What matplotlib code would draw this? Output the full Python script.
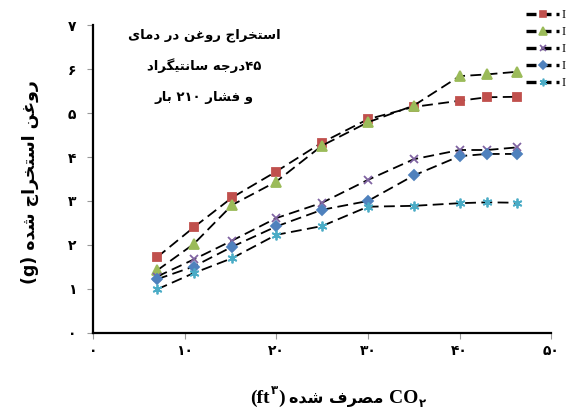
import re
import matplotlib
matplotlib.use("Agg")
import matplotlib.pyplot as plt
from matplotlib.lines import Line2D

# CO2 used (ft^3) and extracted oil (g) for five runs
co2_used = [7, 11, 15.2, 20, 25, 30, 35, 40, 43, 46.3]
oil_red = [1.72, 2.40, 3.08, 3.67, 4.33, 4.86, 5.14, 5.28, 5.36, 5.37]
oil_green = [1.42, 2.02, 2.91, 3.44, 4.26, 4.79, 5.17, 5.84, 5.88, 5.94]
oil_purple = [1.28, 1.67, 2.10, 2.61, 2.96, 3.48, 3.95, 4.16, 4.16, 4.22]
oil_blue = [1.22, 1.51, 1.96, 2.42, 2.80, 3.00, 3.58, 4.02, 4.07, 4.07]
oil_cyan = [0.99, 1.36, 1.70, 2.23, 2.43, 2.87, 2.89, 2.95, 2.97, 2.96]

x_ticks = [0, 10, 20, 30, 40, 50]
x_tick_labels = ["۰", "۱۰", "۲۰", "۳۰", "۴۰", "۵۰"]
y_ticks = [0, 1, 2, 3, 4, 5, 6, 7]
y_tick_labels = ["۰", "۱", "۲", "۳", "۴", "۵", "۶", "۷"]
legend_labels = ["I", "I", "I", "I", "I"]

title_lines = ["استخراج روغن در دمای", "۴۵درجه سانتیگراد", "و فشار ۲۱۰ بار"]
y_label = "روغن استخراج شده (g)"
x_label_fa = "مصرف شده"

# isolated, final, initial, medial
FORMS = {
    "ا": ("\uFE8D", "\uFE8E", None, None),
    "ب": ("\uFE8F", "\uFE90", "\uFE91", "\uFE92"),
    "ت": ("\uFE95", "\uFE96", "\uFE97", "\uFE98"),
    "ج": ("\uFE9D", "\uFE9E", "\uFE9F", "\uFEA0"),
    "خ": ("\uFEA5", "\uFEA6", "\uFEA7", "\uFEA8"),
    "د": ("\uFEA9", "\uFEAA", None, None),
    "ر": ("\uFEAD", "\uFEAE", None, None),
    "س": ("\uFEB1", "\uFEB2", "\uFEB3", "\uFEB4"),
    "ش": ("\uFEB5", "\uFEB6", "\uFEB7", "\uFEB8"),
    "ص": ("\uFEB9", "\uFEBA", "\uFEBB", "\uFEBC"),
    "غ": ("\uFECD", "\uFECE", "\uFECF", "\uFED0"),
    "ف": ("\uFED1", "\uFED2", "\uFED3", "\uFED4"),
    "م": ("\uFEE1", "\uFEE2", "\uFEE3", "\uFEE4"),
    "ن": ("\uFEE5", "\uFEE6", "\uFEE7", "\uFEE8"),
    "ه": ("\uFEE9", "\uFEEA", "\uFEEB", "\uFEEC"),
    "و": ("\uFEED", "\uFEEE", None, None),
    "ی": ("\uFBFC", "\uFBFD", "\uFBFE", "\uFBFF"),
    "گ": ("\uFB92", "\uFB93", "\uFB94", "\uFB95"),
}
MIRROR = {"(": ")", ")": "("}


def shape(text):
    # join the letters, then put the string in left-to-right drawing order
    out = []
    for i, ch in enumerate(text):
        if ch not in FORMS:
            out.append(ch)
            continue
        prev = text[i - 1] if i > 0 else ""
        nxt = text[i + 1] if i + 1 < len(text) else ""
        join_prev = prev in FORMS and FORMS[prev][2] is not None
        join_next = FORMS[ch][2] is not None and nxt in FORMS
        iso, fin, ini, med = FORMS[ch]
        if join_prev and join_next:
            out.append(med)
        elif join_prev:
            out.append(fin)
        elif join_next:
            out.append(ini)
        else:
            out.append(iso)
    s = "".join(out)
    tokens = re.findall(r"[0-9A-Za-z۰-۹]+|.", s)
    tokens = [MIRROR.get(t, t) for t in tokens[::-1]]
    return "".join(tokens)


fig = plt.figure(figsize=(5.66, 4.12), dpi=100)
ax = fig.add_axes([0.164, 0.192, 0.81, 0.747])

styles = [
    (oil_red, "#c0504d", "s", 6.3),
    (oil_green, "#9bbb59", "^", 7),
    (oil_purple, "#8064a2", "x", 6),
    (oil_blue, "#4f81bd", "D", 5.3),
    (oil_cyan, "#4bacc6", (6, 2, 0), 7),
]
handles = []
for vals, col, mk, ms in styles:
    ax.plot(co2_used, vals, color="black", lw=1.3, linestyle="--", dashes=(6, 3),
            marker=mk, ms=ms, mfc=col, mec=col, mew=1.3)
    handles.append(Line2D([], [], color="black", lw=2.4, linestyle="--", dashes=(3, 1.5),
                          marker=mk, ms=ms - 1.5, mfc=col, mec=col, mew=1.2))

ax.set_xlim(0, 50)
ax.set_ylim(0, 7)
ax.set_xticks(x_ticks)
ax.set_xticklabels(x_tick_labels)
ax.set_yticks(y_ticks)
ax.set_yticklabels(y_tick_labels)
for lab in ax.get_xticklabels() + ax.get_yticklabels():
    lab.set_fontweight("bold")
    lab.set_fontsize(10)
ax.tick_params(axis="both", length=4, width=0.8, color="#999999", direction="out")
ax.tick_params(axis="x", pad=4)
ax.tick_params(axis="y", pad=8)
for side in ["top", "right"]:
    ax.spines[side].set_visible(False)
for side in ["left", "bottom"]:
    ax.spines[side].set_linewidth(1.6)

fig.legend(handles, legend_labels, loc="upper left",
           bbox_to_anchor=(520 / 566, 1 - 3 / 412), frameon=False,
           handlelength=2.6, handletextpad=0.25, labelspacing=0.4,
           borderpad=0, prop={"family": "Liberation Serif", "size": 9})

for i, line in enumerate(title_lines):
    fig.text(204 / 566, 1 - (35 + 31 * i) / 412, shape(line), fontsize=9.5,
             fontweight="bold", ha="center", va="center")

fig.text(30 / 566, 1 - 182 / 412, shape(y_label), fontsize=12.5,
         fontweight="bold", rotation=90, ha="center", va="center")

# x label pieces, left to right: (ft^3) مصرف شده CO_2
mid = fig.text(336 / 566, 1 - 403 / 412, shape(x_label_fa), fontsize=11.5,
               fontweight="bold", ha="center", va="baseline")
serif = {"family": "Liberation Serif", "weight": "bold"}
cp = ax.annotate(")", xy=(0, 0), xycoords=mid, xytext=(-3, 0), textcoords="offset points",
                 ha="right", va="bottom", fontsize=14, annotation_clip=False, **serif)
sup = ax.annotate("۳", xy=(0, 0.55), xycoords=cp, ha="right", va="bottom",
                  fontsize=8.5, fontweight="bold", annotation_clip=False)
ft = ax.annotate("(ft", xy=(0, 0), xycoords=cp, xytext=(-6, 0), textcoords="offset points",
                 ha="right", va="bottom", fontsize=14, annotation_clip=False, **serif)
co = ax.annotate("CO", xy=(1, 0), xycoords=mid, xytext=(4, 0), textcoords="offset points",
                 ha="left", va="bottom", fontsize=14, annotation_clip=False, **serif)
sub = ax.annotate("۲", xy=(1, 0), xycoords=co, xytext=(0.5, -2), textcoords="offset points",
                  ha="left", va="bottom", fontsize=8.5, fontweight="bold", annotation_clip=False)

fig.savefig("out.png", dpi=100)
